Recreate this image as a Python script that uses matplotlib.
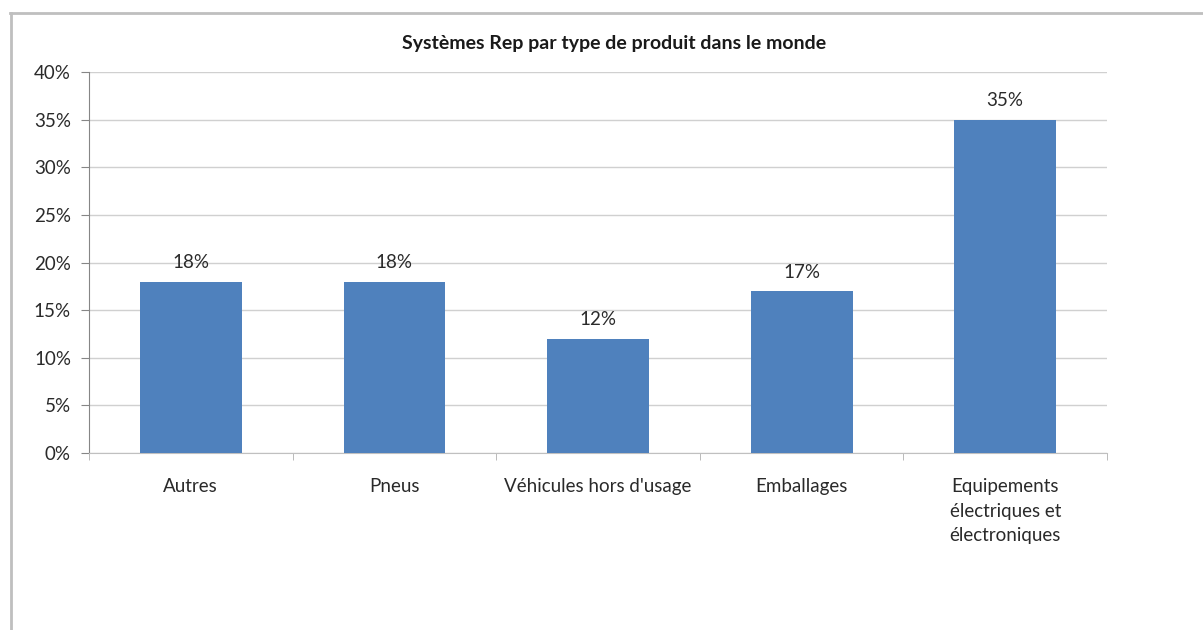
import matplotlib
matplotlib.use("Agg")
import matplotlib.pyplot as plt
from matplotlib.lines import Line2D
from matplotlib.ticker import PercentFormatter, FixedLocator, NullFormatter

title = "Systèmes Rep par type de produit dans le monde"
categories = ["Autres", "Pneus", "Véhicules hors d'usage", "Emballages",
              "Equipements\nélectriques et\nélectroniques"]
values = [18, 18, 12, 17, 35]
yticks = [0, 5, 10, 15, 20, 25, 30, 35, 40]

plt.rcParams['font.family'] = ['Lato', 'DejaVu Sans']
text_color = "#2a2a2a"
fs = 13.5

fig = plt.figure(figsize=(12.03, 6.30), dpi=100)
fig.patch.set_facecolor("white")
ax = fig.add_axes([89/1203, 1-453/630, (1107-89)/1203, (453-72)/630])

x = list(range(len(categories)))
bars = ax.bar(x, values, width=0.5, color="#4F81BD", zorder=3)
for xi, v in zip(x, values):
    ax.annotate(f"{v}%", (xi, v), xytext=(0, 13.5), textcoords="offset points",
                ha="center", va="center", fontsize=fs, color=text_color)

ax.set_xlim(-0.5, len(categories) - 0.5)
ax.set_ylim(0, 40)
ax.set_yticks(yticks)
ax.yaxis.set_major_formatter(PercentFormatter(decimals=0))
ax.grid(axis="y", color="#d0d0d0", linewidth=1, zorder=0)

ax.set_xticks(x)
ax.set_xticklabels(categories, fontsize=fs, color=text_color, va="top", linespacing=1.55)
ax.tick_params(axis="x", which="major", length=0, pad=18)
ax.xaxis.set_minor_locator(FixedLocator([i - 0.5 for i in range(len(categories) + 1)]))
ax.xaxis.set_minor_formatter(NullFormatter())
ax.tick_params(axis="x", which="minor", length=5, color="#b0b0b0", direction="out")
ax.tick_params(axis="y", length=6, color="#868686", labelsize=fs, labelcolor=text_color, pad=7)

for s in ["top", "right"]:
    ax.spines[s].set_visible(False)
ax.spines["left"].set_color("#868686")
ax.spines["bottom"].set_color("#c0c0c0")

fig.text(614/1203, 1-44/630, title, ha="center", va="center", fontsize=14,
         fontweight="bold", color="#1a1a1a")

# outer chart border (top and left)
fig.add_artist(Line2D([10/1203, 1], [1-13/630, 1-13/630], transform=fig.transFigure,
                      color="#bfbfbf", linewidth=2))
fig.add_artist(Line2D([11/1203, 11/1203], [0, 1-13/630], transform=fig.transFigure,
                      color="#bfbfbf", linewidth=2))

fig.savefig("out.png", dpi=100, facecolor="white")
